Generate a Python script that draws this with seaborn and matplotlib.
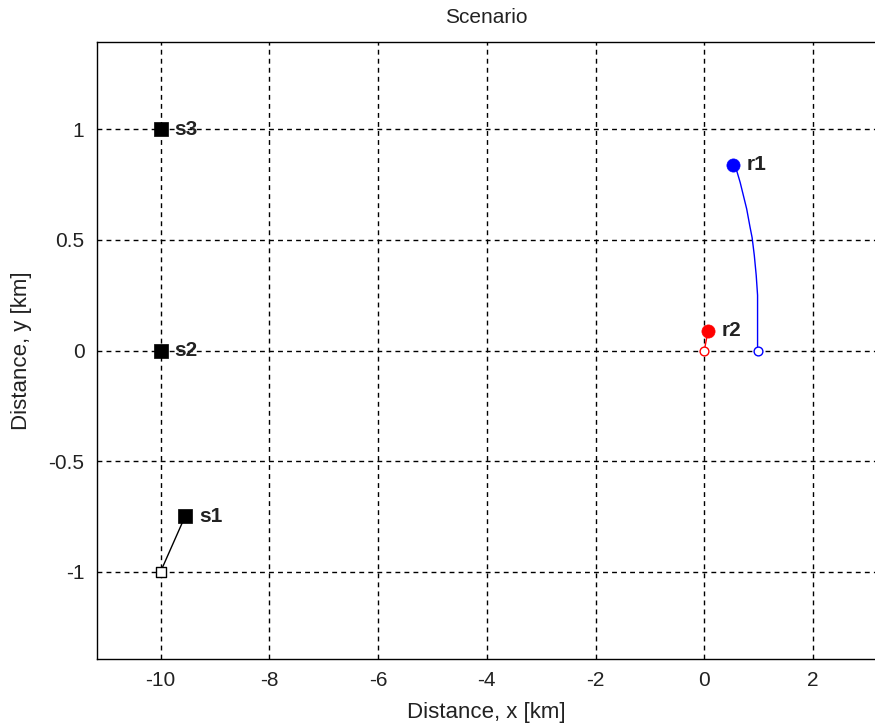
import numpy as np
import pandas as pd
import matplotlib
matplotlib.use("Agg")
import matplotlib.pyplot as plt
import seaborn as sns

# -------------------- data --------------------
# receiver tracks (start -> end)
r1_x = [0.98, 0.98, 0.955, 0.92, 0.88, 0.84, 0.78, 0.72, 0.66, 0.60, 0.53]
r1_y = [0.00, 0.25, 0.34, 0.43, 0.51, 0.56, 0.64, 0.70, 0.76, 0.81, 0.84]
r2_x = [0.00, 0.07]
r2_y = [0.00, 0.09]
# source tracks (start -> end)
s1_x = [-10.0, -9.55]
s1_y = [-1.0, -0.75]
s2_x = [-10.0, -10.0]
s2_y = [0.0, 0.0]
s3_x = [-10.0, -10.0]
s3_y = [1.0, 1.0]

x_ticks = [-10, -8, -6, -4, -2, 0, 2]
y_ticks = [-1, -0.5, 0, 0.5, 1]
y_tick_labels = ["-1", "-0.5", "0", "0.5", "1"]
# ----------------------------------------------

sns.set_style("white")
plt.rcParams["font.family"] = ["Liberation Sans", "DejaVu Sans"]
TXT = "#222222"
FS = 15

fig = plt.figure(figsize=(8.75, 7.25), dpi=100)
ax = fig.add_axes([97 / 875, 1 - 659 / 725, 1 - 97 / 875, (659 - 42) / 725])

tracks = [
    ("r1", r1_x, r1_y, "#0000ff", "o"),
    ("r2", r2_x, r2_y, "#ff0000", "o"),
    ("s1", s1_x, s1_y, "black", "s"),
    ("s2", s2_x, s2_y, "black", "s"),
    ("s3", s3_x, s3_y, "black", "s"),
]

for name, xs, ys, col, mk in tracks:
    df = pd.DataFrame({"x": xs, "y": ys})
    sns.lineplot(data=df, x="x", y="y", sort=False, estimator=None,
                 color=col, lw=1.0, ax=ax, zorder=3)
    start = df.iloc[[0]]
    end = df.iloc[[-1]]
    ms_open = 40 if mk == "o" else 45
    ms_fill = 90 if mk == "o" else 90
    sns.scatterplot(data=start, x="x", y="y", marker=mk, s=ms_open,
                    facecolor="white", edgecolor=col, linewidth=1.0,
                    ax=ax, zorder=4)
    sns.scatterplot(data=end, x="x", y="y", marker=mk, s=ms_fill,
                    color=col, edgecolor=col, linewidth=0.5, ax=ax, zorder=5)
    ax.annotate(name, (end["x"].iloc[0], end["y"].iloc[0]),
                xytext=(10, 0), textcoords="offset points",
                ha="left", va="center", fontsize=FS, fontweight="bold",
                color=TXT, zorder=6)

ax.set_xlim(-11.17, 3.14)
ax.set_ylim(-1.395, 1.395)
ax.set_xticks(x_ticks)
ax.set_xticklabels([str(t) for t in x_ticks])
ax.set_yticks(y_ticks)
ax.set_yticklabels(y_tick_labels)

ax.grid(True, color="black", linestyle=(0, (3.5, 3)), linewidth=1.0)
ax.set_axisbelow(True)
for side in ["left", "bottom", "top"]:
    ax.spines[side].set_color("black")
    ax.spines[side].set_linewidth(1.0)
ax.spines["right"].set_visible(False)

ax.tick_params(direction="in", length=5, width=1, colors="black",
               labelcolor=TXT, labelsize=FS, pad=9)

ax.set_xlabel("Distance, x [km]", fontsize=FS + 1, color=TXT, labelpad=8)
ax.set_ylabel("Distance, y [km]", fontsize=FS + 1, color=TXT, labelpad=12)
ax.set_title("Scenario", fontsize=FS, color=TXT, pad=14)

fig.savefig("out.png", dpi=100)
